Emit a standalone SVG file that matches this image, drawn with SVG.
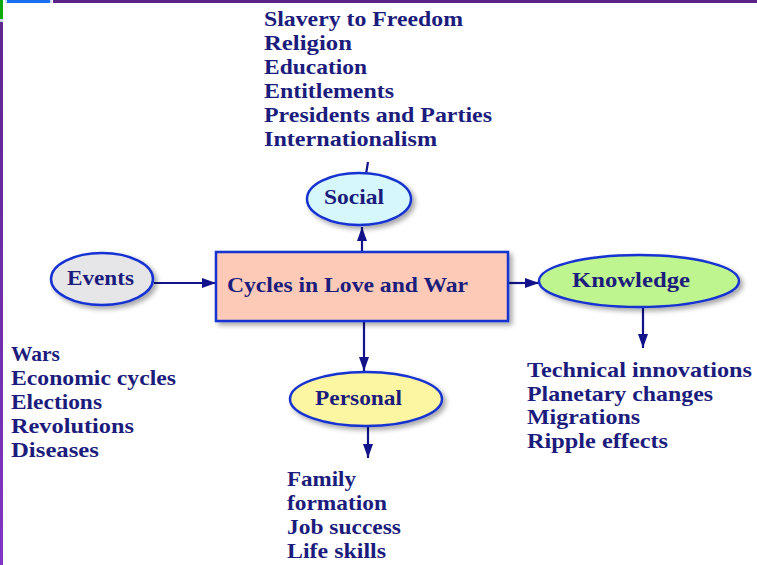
<svg xmlns="http://www.w3.org/2000/svg" width="757" height="565" viewBox="0 0 757 565">
<defs>
<style>
text{font-family:"Liberation Serif","Times New Roman",serif;font-weight:bold;font-size:21px;fill:#1c1c7c}
.node{stroke:#1733d0;stroke-width:2.5}
.conn line{stroke:#12128a;stroke-width:2.2}
</style>
<filter id="sh" x="-20%" y="-20%" width="150%" height="160%">
<feDropShadow dx="3" dy="3" stdDeviation="2.5" flood-color="#000" flood-opacity="0.35"/>
</filter>
<marker id="ah" viewBox="0 0 14 10" refX="14" refY="5" markerWidth="14" markerHeight="10" markerUnits="userSpaceOnUse" orient="auto">
<path d="M0,0 L14,5 L0,10 Z" fill="#12128a"/>
</marker>
<linearGradient id="lb" x1="0" y1="0" x2="0" y2="1">
<stop offset="0" stop-color="#5e2590"/>
<stop offset="1" stop-color="#8036c4"/>
</linearGradient>
</defs>
<rect width="757" height="565" fill="#ffffff"/>
<!-- frame -->
<rect x="53" y="0" width="704" height="3" fill="#5b2388"/>
<rect x="5" y="0" width="47" height="3" fill="#c8ddf8"/>
<rect x="7" y="0" width="43" height="3" fill="#1a6ef0"/>
<rect x="0" y="0" width="3" height="19" fill="#0aaa0a"/>
<rect x="0" y="19" width="3" height="3" fill="#c8d8e0"/>
<rect x="0" y="22" width="3" height="543" fill="url(#lb)"/>

<g id="connectors" class="conn">
<line x1="368" y1="162" x2="366" y2="174"/>
<line x1="154" y1="283" x2="216" y2="283" marker-end="url(#ah)"/>
<line x1="362" y1="252" x2="362" y2="227" marker-end="url(#ah)"/>
<line x1="508" y1="283" x2="539" y2="283" marker-end="url(#ah)"/>
<line x1="643" y1="308" x2="643" y2="348" marker-end="url(#ah)"/>
<line x1="364" y1="321" x2="364" y2="371" marker-end="url(#ah)"/>
<line x1="368" y1="426" x2="368" y2="458" marker-end="url(#ah)"/>
</g>

<g id="center">
<rect class="node" x="216" y="252" width="292" height="69" fill="#fccab6" stroke-width="3" filter="url(#sh)"/>
<text x="227" y="292" textLength="241" lengthAdjust="spacingAndGlyphs">Cycles in Love and War</text>
</g>

<g id="social">
<ellipse class="node" cx="359" cy="199" rx="52" ry="26" fill="#d6f8fc" filter="url(#sh)"/>
<text x="324" y="204" textLength="60" lengthAdjust="spacingAndGlyphs">Social</text>
</g>

<g id="events">
<ellipse class="node" cx="102" cy="279" rx="51" ry="26" fill="#e6e6e8" filter="url(#sh)"/>
<text x="67" y="285" textLength="67" lengthAdjust="spacingAndGlyphs">Events</text>
</g>

<g id="knowledge">
<ellipse class="node" cx="639" cy="281" rx="100" ry="26" fill="#bff58e" filter="url(#sh)"/>
<text x="572" y="287" textLength="118" lengthAdjust="spacingAndGlyphs">Knowledge</text>
</g>

<g id="personal">
<ellipse class="node" cx="366" cy="399" rx="76" ry="27" fill="#fcf6a2" filter="url(#sh)"/>
<text x="315" y="405" textLength="87" lengthAdjust="spacingAndGlyphs">Personal</text>
</g>

<g id="social-list">
<text x="264" y="26" textLength="199" lengthAdjust="spacingAndGlyphs">Slavery to Freedom</text>
<text x="264" y="50" textLength="88" lengthAdjust="spacingAndGlyphs">Religion</text>
<text x="264" y="74" textLength="103" lengthAdjust="spacingAndGlyphs">Education</text>
<text x="264" y="98" textLength="130" lengthAdjust="spacingAndGlyphs">Entitlements</text>
<text x="264" y="122" textLength="228" lengthAdjust="spacingAndGlyphs">Presidents and Parties</text>
<text x="264" y="146" textLength="173" lengthAdjust="spacingAndGlyphs">Internationalism</text>
</g>

<g id="events-list">
<text x="11" y="361" textLength="49" lengthAdjust="spacingAndGlyphs">Wars</text>
<text x="11" y="385" textLength="165" lengthAdjust="spacingAndGlyphs">Economic cycles</text>
<text x="11" y="409" textLength="91" lengthAdjust="spacingAndGlyphs">Elections</text>
<text x="11" y="433" textLength="123" lengthAdjust="spacingAndGlyphs">Revolutions</text>
<text x="11" y="457" textLength="88" lengthAdjust="spacingAndGlyphs">Diseases</text>
</g>

<g id="knowledge-list">
<text x="527" y="377" textLength="225" lengthAdjust="spacingAndGlyphs">Technical innovations</text>
<text x="527" y="401" textLength="186" lengthAdjust="spacingAndGlyphs">Planetary changes</text>
<text x="527" y="424" textLength="113" lengthAdjust="spacingAndGlyphs">Migrations</text>
<text x="527" y="448" textLength="141" lengthAdjust="spacingAndGlyphs">Ripple effects</text>
</g>

<g id="personal-list">
<text x="287" y="486" textLength="69" lengthAdjust="spacingAndGlyphs">Family</text>
<text x="287" y="510" textLength="100" lengthAdjust="spacingAndGlyphs">formation</text>
<text x="287" y="534" textLength="114" lengthAdjust="spacingAndGlyphs">Job success</text>
<text x="287" y="558" textLength="99" lengthAdjust="spacingAndGlyphs">Life skills</text>
</g>
</svg>
